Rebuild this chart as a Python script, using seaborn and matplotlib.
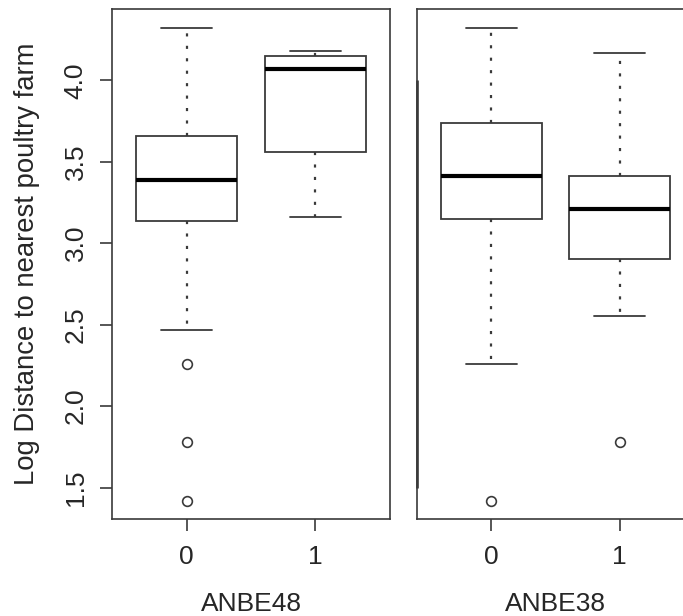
import pandas as pd
import matplotlib
matplotlib.use("Agg")
import matplotlib.pyplot as plt
import seaborn as sns

# Five-number summaries: lower whisker, Q1, median, Q3, upper whisker
groups = ["0", "1"]
anbe48_g0 = [2.47, 3.135, 3.39, 3.66, 4.32]
anbe48_g1 = [3.16, 3.56, 4.07, 4.15, 4.18]
anbe38_g0 = [2.26, 3.15, 3.41, 3.74, 4.32]
anbe38_g1 = [2.55, 2.90, 3.21, 3.41, 4.165]

# Outliers
anbe48_out_g0 = [2.26, 1.78, 1.42]
anbe48_out_g1 = []
anbe38_out_g0 = [1.42]
anbe38_out_g1 = [1.78]

y_ticks = [1.5, 2.0, 2.5, 3.0, 3.5, 4.0]
y_label = "Log Distance to nearest poultry farm"

sns.set_style("ticks")
plt.rcParams["font.family"] = ["Liberation Sans", "DejaVu Sans"]

line_col = "#3a3a3a"
fs = 19


def make_df(g0, g1):
    return pd.DataFrame({
        "group": ["0"] * len(g0) + ["1"] * len(g1),
        "value": list(g0) + list(g1),
    })


def draw_panel(ax, box_df, out_df, xlabel):
    sns.boxplot(
        data=box_df, x="group", y="value", order=groups, ax=ax,
        whis=(0, 100), width=0.79, color="white", linecolor=line_col,
        linewidth=1.3,
        whiskerprops={"linestyle": (0, (1.4, 4.2)), "linewidth": 1.6},
        medianprops={"color": "black", "linewidth": 3},
    )
    if len(out_df):
        sns.stripplot(
            data=out_df, x="group", y="value", order=groups, ax=ax,
            jitter=False, color="white", edgecolor=line_col, linewidth=1.2,
            size=7,
        )
    ax.set_xlim(-0.58, 1.58)
    ax.set_ylim(1.307, 4.436)
    ax.set_xlabel(xlabel, fontsize=fs, labelpad=17)
    for s in ax.spines.values():
        s.set_color(line_col)
        s.set_linewidth(1.2)
    ax.tick_params(axis="x", length=8.5, width=1.2, color=line_col,
                   labelsize=fs, pad=10)


fig = plt.figure(figsize=(6.83, 6.16), dpi=100)
ax1 = fig.add_axes([0.164, 0.1575, 0.407, 0.8275])
ax2 = fig.add_axes([0.6105, 0.1575, 0.4056, 0.8275])

draw_panel(ax1, make_df(anbe48_g0, anbe48_g1),
           make_df(anbe48_out_g0, anbe48_out_g1), "ANBE48")
draw_panel(ax2, make_df(anbe38_g0, anbe38_g1),
           make_df(anbe38_out_g0, anbe38_out_g1), "ANBE38")

ax1.set_yticks(y_ticks)
ax1.set_yticklabels([f"{t:.1f}" for t in y_ticks], rotation=90, va="center")
ax1.tick_params(axis="y", length=8.5, width=1.2, color=line_col,
                labelsize=fs, pad=9)
ax1.set_ylabel(y_label, fontsize=19.8, labelpad=17)

# right panel: no y labels, only the axis line over the tick range
ax2.set_yticks([])
ax2.set_ylabel("")
ax2.spines["right"].set_visible(False)
ax2.vlines(ax2.get_xlim()[0], y_ticks[0], y_ticks[-1], color=line_col,
           linewidth=1.9, clip_on=False)

fig.savefig("out.png", dpi=100)
